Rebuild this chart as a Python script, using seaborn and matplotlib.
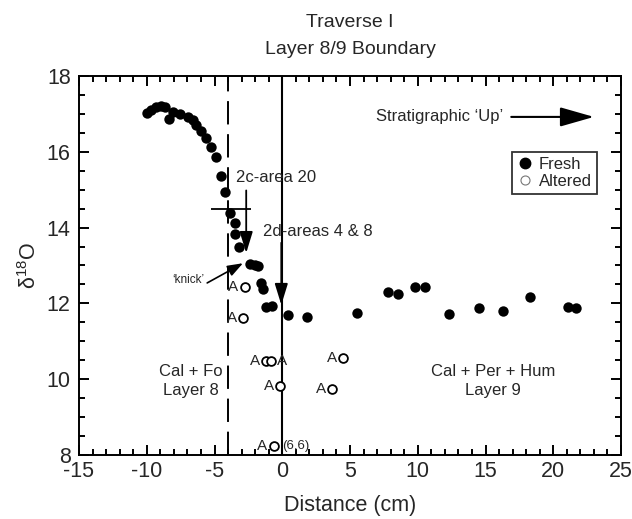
import matplotlib
matplotlib.use("Agg")
import matplotlib.pyplot as plt
from matplotlib.lines import Line2D
from matplotlib.ticker import MultipleLocator
import seaborn as sns
import pandas as pd

# ---------------- data ----------------
fresh_x = [-9.96, -9.67, -9.30, -8.93, -8.69, -8.39, -8.07, -7.58, -6.96, -6.59,
           -6.35, -5.98, -5.61, -5.29, -4.87, -4.55, -4.21, -3.89, -3.52, -3.47,
           -3.21, -2.41, -2.04, -1.77, -1.55, -1.42, -1.18, -0.77, 0.42, 1.85,
           5.54, 7.84, 8.54, 9.82, 10.50, 12.30, 14.49, 16.29, 18.28, 21.08, 21.70]
fresh_y = [17.02, 17.10, 17.17, 17.21, 17.17, 16.86, 17.06, 17.00, 16.93, 16.84,
           16.71, 16.56, 16.37, 16.13, 15.85, 15.36, 14.95, 14.39, 14.11, 13.83,
           13.48, 13.05, 13.01, 12.99, 12.53, 12.38, 11.90, 11.94, 11.69, 11.65,
           11.74, 12.29, 12.25, 12.44, 12.44, 11.72, 11.87, 11.81, 12.18, 11.91, 11.87]

altered_x = [-2.78, -2.90, -1.18, -0.86, -0.15, 4.48, 3.69, -0.64]
altered_y = [12.42, 11.62, 10.48, 10.48, 9.83, 10.57, 9.74, 8.24]
altered_label_side = ["left", "left", "left", "right", "left", "left", "left", "left"]

x_ticks = [-15, -10, -5, 0, 5, 10, 15, 20, 25]
y_ticks = [8, 10, 12, 14, 16, 18]

fresh_df = pd.DataFrame({"Distance": fresh_x, "d18O": fresh_y})
altered_df = pd.DataFrame({"Distance": altered_x, "d18O": altered_y})

# ---------------- style ----------------
sns.set_style("ticks")
plt.rcParams["font.family"] = ["Liberation Sans", "DejaVu Sans"]
plt.rcParams["mathtext.fontset"] = "custom"
plt.rcParams["mathtext.rm"] = "Liberation Sans"
plt.rcParams["mathtext.it"] = "Liberation Sans:italic"
plt.rcParams["axes.linewidth"] = 1.4
plt.rcParams["axes.unicode_minus"] = False

fig = plt.figure(figsize=(6.32, 5.19), dpi=100)
ax = fig.add_axes([0.125, 0.1233, 0.8576, 0.7303])

# reference lines
ax.axvline(-4, color="black", lw=1.4, linestyle=(0, (12, 5)), zorder=1)
ax.axvline(0, color="black", lw=1.5, zorder=1)

sns.scatterplot(data=fresh_df, x="Distance", y="d18O", ax=ax, color="black",
                s=56, edgecolor="black", linewidth=0, zorder=3, legend=False)
sns.scatterplot(data=altered_df, x="Distance", y="d18O", ax=ax, facecolor="white",
                s=40, edgecolor="black", linewidth=1.3, zorder=3, legend=False)

for xv, yv, side in zip(altered_x, altered_y, altered_label_side):
    off = -8 if side == "left" else 8
    ax.annotate("A", (xv, yv), xytext=(off, 0), textcoords="offset points",
                ha="center", va="center", fontsize=11, zorder=4)
ax.annotate("(6,6)", (altered_x[-1], altered_y[-1]), xytext=(6, 0),
            textcoords="offset points", ha="left", va="center", fontsize=9.5)

# error cross and arrows
ax.hlines(14.48, -5.29, -2.29, color="black", lw=1.3)
arrow_kw = dict(arrowstyle="-|>,head_length=0.65,head_width=0.2", mutation_scale=20,
                color="black", lw=1.3, shrinkA=0, shrinkB=0)
ax.annotate("", xy=(-2.66, 13.33), xytext=(-2.66, 14.98), arrowprops=arrow_kw)
ax.annotate("", xy=(-0.07, 11.96), xytext=(-0.07, 13.6), arrowprops=arrow_kw)
ax.annotate("", xy=(-2.90, 13.06), xytext=(-5.54, 12.54),
            arrowprops=dict(arrowstyle="-|>,head_length=0.55,head_width=0.2",
                            mutation_scale=17, color="black", lw=1.2,
                            shrinkA=0, shrinkB=0))
ax.annotate("", xy=(23.0, 16.92), xytext=(16.9, 16.92),
            arrowprops=dict(arrowstyle="-|>,head_length=1.05,head_width=0.3",
                            mutation_scale=20, color="black", lw=1.5,
                            shrinkA=0, shrinkB=0))

ax.text(-3.39, 15.33, "2c-area 20", fontsize=12, ha="left", va="center")
ax.text(-1.43, 13.89, "2d-areas 4 & 8", fontsize=12, ha="left", va="center")
ax.text(-5.76, 12.62, "\u2018knick\u2019", fontsize=8.5, ha="right", va="center")
ax.text(6.94, 16.92, "Stratigraphic \u2018Up\u2019", fontsize=12, ha="left", va="center")
ax.text(-6.72, 9.95, "Cal + Fo\nLayer 8", fontsize=12, ha="center", va="center",
        linespacing=1.4)
ax.text(15.57, 9.95, "Cal + Per + Hum\nLayer 9", fontsize=12, ha="center",
        va="center", linespacing=1.4)

# axes
ax.set_xlim(-15, 25)
ax.set_ylim(8, 18)
ax.set_xticks(x_ticks)
ax.set_yticks(y_ticks)
ax.xaxis.set_minor_locator(MultipleLocator(1))
ax.yaxis.set_minor_locator(MultipleLocator(0.5))
ax.tick_params(which="both", direction="in", top=True, right=True, width=1.4,
               color="black", labelsize=15.5)
ax.tick_params(which="major", length=7)
ax.tick_params(which="minor", length=4.5)
ax.tick_params(axis="y", pad=6)
ax.tick_params(axis="x", pad=4.5)
for sp in ax.spines.values():
    sp.set_visible(True)
    sp.set_color("black")

ax.set_xlabel("Distance (cm)", fontsize=15.5, labelpad=9)
ax.set_ylabel(r"$\mathregular{\delta^{18}}$O", fontsize=15.5, labelpad=4)
ax.set_title("Traverse I\nLayer 8/9 Boundary", fontsize=14, pad=16, linespacing=1.75)

handles = [
    Line2D([], [], marker="o", linestyle="none", markerfacecolor="black",
           markeredgecolor="black", markersize=7.5, label="Fresh"),
    Line2D([], [], marker="o", linestyle="none", markerfacecolor="white",
           markeredgecolor="#777777", markeredgewidth=0.8, markersize=6.5, label="Altered"),
]
leg = ax.legend(handles=handles, loc="upper left", bbox_to_anchor=(0.799, 0.80),
                frameon=True, fancybox=False, fontsize=12, handletextpad=0.3,
                handlelength=1.0, borderpad=0.3, labelspacing=0.15,
                borderaxespad=0)
leg.get_frame().set_edgecolor("black")
leg.get_frame().set_linewidth(1.3)

fig.savefig("out.png", dpi=100)
